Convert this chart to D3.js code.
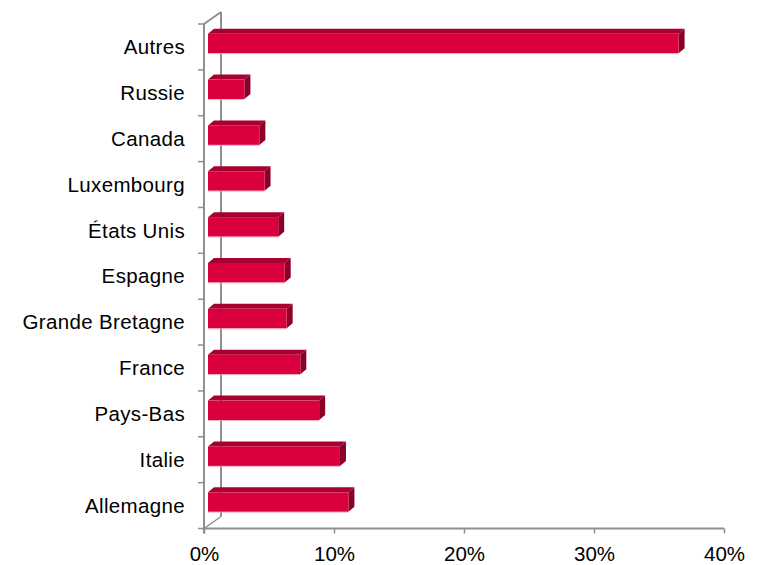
<!DOCTYPE html>
<html>
<head>
<meta charset="utf-8">
<script src="https://cdn.jsdelivr.net/npm/d3@7/dist/d3.min.js"></script>
<style>
  html, body { margin: 0; padding: 0; background: #fff; }
  svg { display: block; }
  text { font-family: "Liberation Sans", Arial, sans-serif; fill: #000; }
</style>
</head>
<body>
<svg id="chart" width="770" height="565"></svg>
<script>
const categories = ["Autres", "Russie", "Canada", "Luxembourg", "États Unis", "Espagne",
                    "Grande Bretagne", "France", "Pays-Bas", "Italie", "Allemagne"];
const values = [36.2, 2.8, 3.95, 4.35, 5.4, 5.9, 6.05, 7.1, 8.55, 10.15, 10.8];
const xTicks = [0, 10, 20, 30, 40];
const xTickLabels = ["0%", "10%", "20%", "30%", "40%"];

(function () {
const svg = d3.select("#chart");

// plot geometry
const pLeft = 204, pRight = 724, pTop = 24, pBottom = 528.5;
const wallDX = 17, wallDY = -12;     // depth of chart walls
const barShiftX = 4, barShiftY = -3.5; // bar position within depth
const barDX = 6, barDY = -5;         // bar depth

const x = d3.scaleLinear().domain([0, 40]).range([pLeft, pRight]);
const y = d3.scaleBand().domain(categories).range([pTop, pBottom]).paddingInner(0.575).paddingOuter(0.2875);
const yb = d3.scaleBand().domain(categories).range([pTop, pBottom]);

const axisColor = "#8f8f8f";
const g = svg.append("g");

// back wall vertical line and diagonals
g.append("line").attr("x1", pLeft + wallDX).attr("y1", pTop + wallDY)
  .attr("x2", pLeft + wallDX).attr("y2", pBottom + wallDY)
  .attr("stroke", axisColor).attr("stroke-width", 2);
g.append("line").attr("x1", pLeft).attr("y1", pTop)
  .attr("x2", pLeft + wallDX).attr("y2", pTop + wallDY)
  .attr("stroke", axisColor).attr("stroke-width", 2);
g.append("line").attr("x1", pLeft).attr("y1", pBottom)
  .attr("x2", pLeft + wallDX).attr("y2", pBottom + wallDY)
  .attr("stroke", axisColor).attr("stroke-width", 1.5);

// bars
const front = "#da003e", topC = "#a8002f", sideC = "#8a0028";
const bars = g.selectAll("g.bar").data(categories.map((c, i) => ({ c, v: values[i] })))
  .enter().append("g").attr("class", "bar");

bars.each(function (d) {
  const sel = d3.select(this);
  const x0 = x(0) + barShiftX, x1 = x(d.v) + barShiftX;
  const y0 = y(d.c) + barShiftY, y1 = y0 + y.bandwidth();
  sel.append("polygon")
    .attr("points", [[x0, y0], [x0 + barDX, y0 + barDY], [x1 + barDX, y0 + barDY], [x1, y0]].join(" "))
    .attr("fill", topC);
  sel.append("polygon")
    .attr("points", [[x1, y0], [x1 + barDX, y0 + barDY], [x1 + barDX, y1 + barDY], [x1, y1]].join(" "))
    .attr("fill", sideC);
  sel.append("rect")
    .attr("x", x0).attr("y", y0).attr("width", x1 - x0).attr("height", y1 - y0)
    .attr("fill", front);
  sel.append("line").attr("x1", x0).attr("x2", x1).attr("y1", y1 + 0.4).attr("y2", y1 + 0.4)
    .attr("stroke", "#f3a0b4").attr("stroke-width", 0.8);
});

// front vertical axis with ticks at band boundaries
g.append("line").attr("x1", pLeft).attr("y1", pTop).attr("x2", pLeft).attr("y2", pBottom + 5)
  .attr("stroke", axisColor).attr("stroke-width", 2);
const bounds = categories.map(c => yb(c)).concat([pBottom]);
g.selectAll("line.ytick").data(bounds).enter().append("line")
  .attr("class", "ytick")
  .attr("x1", pLeft - 6).attr("x2", pLeft).attr("y1", d => d).attr("y2", d => d)
  .attr("stroke", axisColor).attr("stroke-width", 1.5);

// bottom axis
const xAxis = d3.axisBottom(x).tickValues(xTicks).tickSize(5).tickFormat((d, i) => xTickLabels[i]);
const xg = svg.append("g").attr("transform", `translate(0,${pBottom})`).call(xAxis);
xg.select(".domain").attr("stroke", axisColor).attr("stroke-width", 2)
  .attr("d", `M${pLeft},0H${pRight}`);
xg.selectAll(".tick line").attr("stroke", axisColor).attr("stroke-width", 1.5);
xg.selectAll(".tick text").attr("font-size", 20.5).attr("dy", 0).attr("y", 32)
  .attr("font-family", "Liberation Sans, Arial, sans-serif").attr("fill", "#000");

// category labels
g.selectAll("text.cat").data(categories).enter().append("text")
  .attr("class", "cat")
  .attr("x", 185)
  .attr("y", d => yb(d) + yb.bandwidth() / 2)
  .attr("dy", "0.35em")
  .attr("text-anchor", "end")
  .attr("font-size", 20.5)
  .attr("letter-spacing", 0.35)
  .text(d => d);
})();
</script>
</body>
</html>
